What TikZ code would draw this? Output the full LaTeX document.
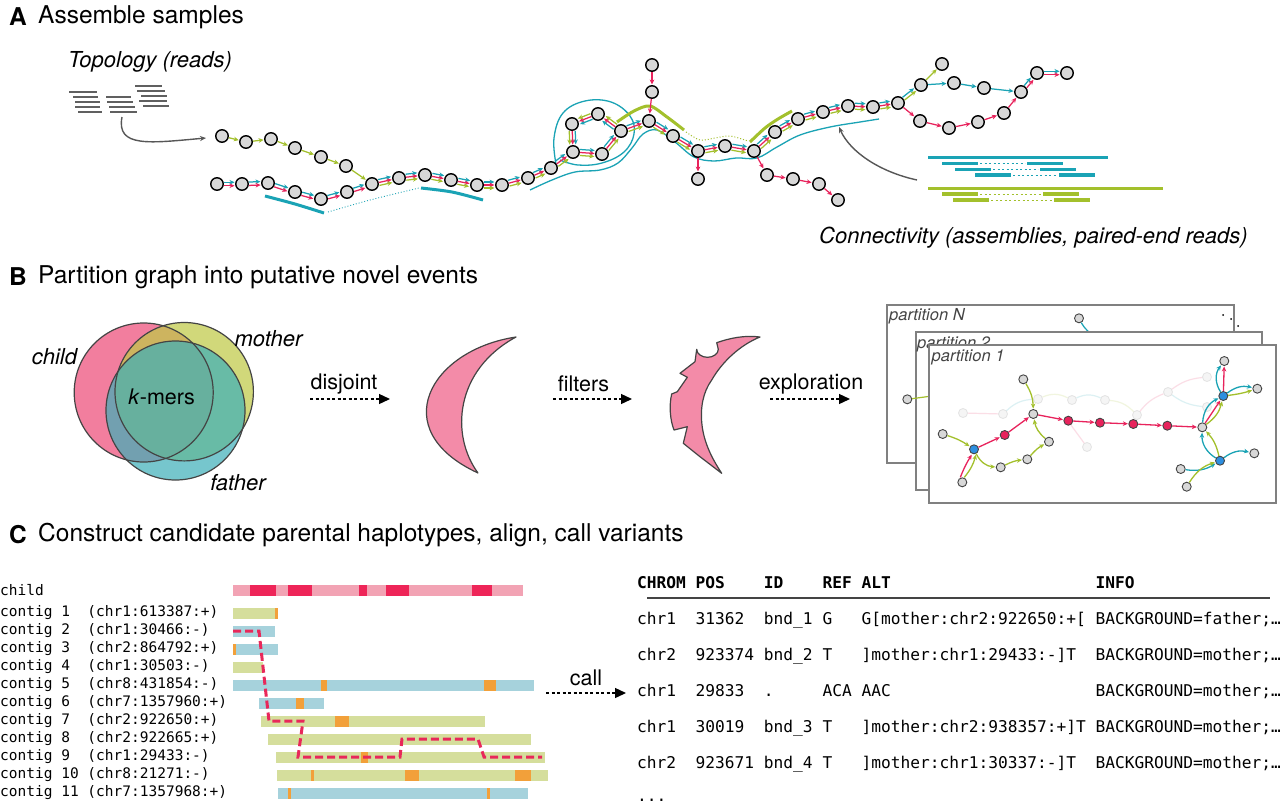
\documentclass[tikz,border=0pt]{standalone}
\usepackage{fontspec}
\setmainfont{TeX Gyre Heros}
\newfontfamily\monof{DejaVu Sans Mono}
\usetikzlibrary{arrows.meta,calc}
\definecolor{cteal}{HTML}{1AA3B5}
\definecolor{cred}{HTML}{E8235C}
\definecolor{cgreen}{HTML}{A3C02C}
\definecolor{ndgray}{HTML}{D8D8D8}
\definecolor{cpink}{HTML}{F27E9E}
\definecolor{cmom}{RGB}{192,202,71}
\definecolor{cdad}{RGB}{60,175,185}
\definecolor{barpink}{HTML}{F2A3B4}
\definecolor{bardark}{HTML}{EE2558}
\definecolor{bargreen}{HTML}{D5DE9C}
\definecolor{barblue}{HTML}{A6D2DC}
\definecolor{barorange}{HTML}{F2A03A}
\definecolor{dashred}{HTML}{E8285A}
\definecolor{dkgray}{HTML}{444444}
\definecolor{boxgray}{HTML}{808080}
\definecolor{pblue}{HTML}{2D8FE0}
\newcommand\setfs[1]{\fontsize{#1}{#1}\selectfont}
\newcommand\edg[4]{\draw[ar,#1] ($(#3)!#2!90:(#4)$) -- ($(#4)!#2!-90:(#3)$);}
\newcommand\tri[2]{\edg{cteal}{3pt}{#1}{#2}\edg{cred}{0pt}{#1}{#2}\edg{cgreen}{-3pt}{#1}{#2}}
\newcommand\duo[2]{\edg{cteal}{1.7pt}{#1}{#2}\edg{cred}{-1.7pt}{#1}{#2}}
\newcommand\cbar[4]{\fill[#1] (#2,#4-5.5) rectangle (#3,#4+5.5);}
\tikzset{
 nd/.style={circle,draw=black,line width=1.4pt,fill=ndgray,minimum size=12.5pt,inner sep=0pt},
 ar/.style={line width=1.25pt,-{Stealth[length=5pt,width=4.6pt]},shorten >=7.5pt,shorten <=7pt},
 ttl/.style={anchor=west,inner sep=0pt,font=\setfs{24.5}},
 ttlb/.style={anchor=west,inner sep=0pt,font=\setfs{24.5}\bfseries},
 lbl/.style={inner sep=0pt,font=\setfs{22}\itshape},
 alb/.style={inner sep=0pt,font=\setfs{21.5}},
 dar/.style={line width=1.3pt,dash pattern=on 3pt off 2.5pt,-{Triangle[length=11pt,width=10pt]}},
 garr/.style={draw=dkgray!90,line width=1.4pt,-{Stealth[length=6pt,width=5pt]}},
 venn/.style={draw=dkgray,line width=1.2pt},
 pbox/.style={draw=boxgray,line width=1.8pt,fill=white},
 pn/.style={circle,draw=dkgray,line width=0.9pt,fill=ndgray,minimum size=9pt,inner sep=0pt},
 pfade/.style={circle,draw=dkgray!15,line width=0.8pt,fill=ndgray!25,minimum size=9pt,inner sep=0pt},
 pa/.style={line width=1.3pt,-{Stealth[length=5pt,width=4.5pt]},shorten >=0.5pt},
 pfa/.style={line width=1.2pt,opacity=0.15},
 tealread/.style={cteal,line width=3.2pt},
 greenread/.style={cgreen,line width=3.6pt},
 rdot/.style={line width=0.8pt,dash pattern=on 2pt off 2.5pt},
 clab/.style={anchor=west,inner sep=0pt,font=\monof\setfs{14.5}},
 tab/.style={anchor=west,inner sep=0pt,text height=11pt,text depth=3pt,font=\monof\setfs{16.2}},
}
\begin{document}
\begin{tikzpicture}[x=1pt,y=-1pt]
\useasboundingbox (0,0) rectangle (1280,804);
\fill[white] (0,0) rectangle (1280,804);

% ================= PANEL A =================
\node[ttlb] (tA) at (9,17) {A};
\node[ttl] (tAt) at (38,17) {Assemble samples};
\node[lbl,anchor=west] (topo) at (68,62) {Topology (reads)};
\node[lbl,anchor=west] (conn) at (819,238) {Connectivity (assemblies, paired-end reads)};

% topology reads
\foreach \a/\b/\y in {69/97/91.7, 73/98/96.7, 75/100/101.7, 75/100/106.7, 78/102/111.7,
                      106/131/96.7, 107/133/101.7, 109/135/106.7, 110/137/111.7,
                      135/162/86, 137/165/90.7, 141/167/96, 139/167/101, 143/169/106}
  \draw[dkgray!85,line width=1.6pt] (\a,\y) -- (\b,\y);

% connectivity reads
\draw[tealread] (928,157.3) -- (1108,157.3);
\draw[tealread] (942,163.3) -- (978,163.3); \draw[cteal,rdot] (980,163.3) -- (1025,163.3); \draw[tealread] (1027,163.3) -- (1063,163.3);
\draw[tealread] (955,169.3) -- (991,169.3); \draw[cteal,rdot] (993,169.3) -- (1038,169.3); \draw[tealread] (1040,169.3) -- (1076,169.3);
\draw[tealread] (975,175) -- (1011,175); \draw[cteal,rdot] (1013,175) -- (1057,175); \draw[tealread] (1059,175) -- (1095,175);
\draw[greenread] (928,188.3) -- (1163,188.3);
\draw[greenread] (942,194) -- (978,194); \draw[cgreen,rdot] (980,194) -- (1041,194); \draw[greenread] (1043,194) -- (1079,194);
\draw[greenread] (953,200) -- (989,200); \draw[cgreen,rdot] (991,200) -- (1052,200); \draw[greenread] (1054,200) -- (1090,200);

% assembly curves
\draw[cteal,line width=3pt] plot[smooth] coordinates {(265,196) (295,204) (324,213)};
\draw[cteal,line width=0.9pt,dotted] plot[smooth] coordinates {(328,212) (370,200) (419,188)};
\draw[cteal,line width=3pt] plot[smooth] coordinates {(421,188) (452,192) (483,200)};
\draw[cteal,line width=1.3pt] plot[smooth,tension=0.6] coordinates {(530,190) (552,180) (575,172) (600,170) (618,163) (632,148) (643,134) (657,130) (675,142) (694,157) (714,161) (736,158) (757,158) (777,147) (800,135) (830,127) (860,122) (879,119)};
\draw[cteal,line width=1.3pt] plot[smooth,tension=0.65] coordinates {(556,164) (554,138) (563,113) (585,101) (611,102) (630,116) (634,134) (624,152) (602,163) (578,165) (560,160)};
\draw[cgreen,line width=3pt] plot[smooth] coordinates {(617,122) (634,111) (650,106) (667,117) (684,130)};
\draw[cgreen,line width=1pt,dotted] plot[smooth] coordinates {(686,132) (700,140) (715,138) (730,136) (748,141)};
\draw[cgreen,line width=3pt] plot[smooth] coordinates {(750,142) (765,128) (778,119) (792,111)};

% nodes
\foreach \n/\x/\y in {L1/217/184, L2/242/184, L3/268/183, L4/295/192, L5/321/199, L6/347/192, L7/372/184,
  L8/399/178, L9/425/175, L10/451/180, L11/477/185, L12/502/185, L13/528/178, L14/551/168,
  P1/573/152, P2/572/124, P3/598/114, P4/621/131, P5/602/154, J1/649/121, B1/652/65, B2/652/92,
  M1/673/136, M2/698/151, D1/698/179, M3/725/146, M4/754/151, R1/767/175, R2/793/179, R3/819/184, R4/838/200,
  M5/775/132, M6/798/119, M7/823/112, M8/848/106, M9/873/107, J2/898/103,
  U1/921/85, U0/942/64, U2/954/83, U3/984/88, U4/1021/92, U5/1037/73, U6/1067/73,
  W1/920/121, W2/949/128, W3/978/122, W4/1004/113,
  G1/222/136, G2/246/142, G3/271/139, G4/295/148, G5/321/157, G6/346/166}
  \node[nd] (\n) at (\x,\y) {};

% edges
\foreach \a/\b in {L1/L2, L2/L3, L3/L4, L4/L5, L5/L6, L6/L7, U4/U5, U5/U6} {\duo{\a}{\b}}
\foreach \a/\b in {L7/L8, L8/L9, L9/L10, L10/L11, L11/L12, L12/L13, L13/L14, L14/P1, P1/P5, P5/P4, P4/P3, P3/P2, P2/P1,
  P4/J1, J1/M1, M1/M2, M2/M3, M3/M4, M4/M5, M5/M6, M6/M7, M7/M8, M8/M9, M9/J2} {\tri{\a}{\b}}
\foreach \a/\b in {G1/G2, G2/G3, G3/G4, G4/G5, G5/G6, G6/L7, U1/U0} {\edg{cgreen}{0pt}{\a}{\b}}
\foreach \a/\b in {B1/B2, B2/J1, M2/D1, M4/R1, R1/R2, R2/R3, R3/R4, J2/W1, W1/W2, W2/W3, W3/W4, W4/U4} {\edg{cred}{0pt}{\a}{\b}}
\foreach \a/\b in {U1/U2, U2/U3, U3/U4} {\edg{cteal}{0pt}{\a}{\b}}
\edg{cteal}{1.7pt}{J2}{U1}\edg{cgreen}{-1.7pt}{J2}{U1}

% arrows into the graph
\draw[garr] (122,117) .. controls (116,148) and (150,143) .. (206,138);
\draw[garr] (917,180) .. controls (880,172) and (850,152) .. (839,127);

% ================= PANEL B =================
\node[ttlb] (tB) at (9,277) {B};
\node[ttl] (tBt) at (38,277) {Partition graph into putative novel events};

% Venn
\fill[cpink] (143.7,392.5) circle[radius=69.5pt];
\fill[cmom,fill opacity=0.72] (184.2,391.7) circle[radius=69.2pt];
\fill[cdad,fill opacity=0.70] (175.5,410.5) circle[radius=69.5pt];
\draw[venn] (143.7,392.5) circle[radius=69.5pt];
\draw[venn] (184.2,391.7) circle[radius=69.2pt];
\draw[venn] (175.5,410.5) circle[radius=69.5pt];
\node[lbl] (vchild) at (54.5,357) {child};
\node[lbl] (vmother) at (268.5,339) {mother};
\node[lbl] (vfather) at (238,483) {father};
\node[alb] (vk) at (161.7,397) {\textit{k}-mers};

% crescents
\filldraw[fill=cpink!90!white,draw=dkgray,line width=1.2pt,line join=round]
  (516,337) .. controls (430,350) and (385,430) .. (478,473) .. controls (450,435) and (455,370) .. (516,337) -- cycle;
\filldraw[fill=cpink!90!white,draw=dkgray,line width=1.2pt,line join=round]
  (760,337) .. controls (745,335) and (730,338) .. (716.7,342.7) -- (718.3,349.3)
  arc[start angle=0,end angle=-180,x radius=10.8pt,y radius=8pt]
  -- (695,361.7) -- (680,373.3) -- (687.3,377.3) -- (677.3,391.7) -- (671.7,394)
  .. controls (669,405) and (670,420) .. (674,430) -- (687.3,426.7) -- (683.3,443.3) -- (700,456.7) -- (721.7,473.3)
  .. controls (711,457) and (704,442) .. (702,425) .. controls (700,408) and (703,392) .. (711.7,380)
  .. controls (722,362) and (740,345) .. (760,337) -- cycle;

% dashed arrows
\coordinate (d1s) at (310,399); \coordinate (d1e) at (390,399);
\coordinate (d2s) at (553,399); \coordinate (d2e) at (632,399);
\coordinate (d3s) at (770,399); \coordinate (d3e) at (850,399);
\draw[dar] (d1s) -- (d1e); \draw[dar] (d2s) -- (d2e); \draw[dar] (d3s) -- (d3e);
\node[alb] (ldis) at (344,384) {disjoint};
\node[alb] (lfil) at (583.5,384) {filters};
\node[alb] (lexp) at (811,384) {exploration};

% partition N
\draw[pbox] (886.7,305) rectangle (1234,463.3);
\node[anchor=west,inner sep=0pt,font=\setfs{16.5}\itshape,text=dkgray] (pNl) at (889,316.5) {partition N};
\node[pn] (pN1) at (1079,318.3) {};
\coordinate (pN2) at (1095,336);
\draw[cteal,line width=1.2pt] (pN1) to[bend right=15] (pN2);
\foreach \x/\y in {1223/315, 1231/319, 1238/326} \fill[black] (\x,\y) circle[radius=1pt];
% partition 2
\draw[pbox] (915.7,331.7) rectangle (1262.3,490);
\node[anchor=west,inner sep=0pt,font=\setfs{16.5}\itshape,text=dkgray] (p2l) at (917,344) {partition 2};
\node[pn] (p21) at (907.3,399.3) {};
\coordinate (p22) at (932,396);
\draw[cgreen,line width=1.2pt] (p21) -- (p22);
% partition 1
\draw[pbox] (929.3,345) rectangle (1275.7,503.3);
\node[anchor=west,inner sep=0pt,font=\setfs{16.5}\itshape,text=dkgray] (p1l) at (931.5,357) {partition 1};

% faded background graph
\foreach \n/\x/\y in {f1/963/413, f2/1003/414, f3/1038/399, f4/1072/400, f5/1105/400, f6/1137/415, f7/1168/392, f8/1207/377, f9/1207/407, f10/1087/447}
  \node[pfade] (\n) at (\x,\y) {};
\draw[pfa,cred] (f1) -- (f2);
\draw[pfa,cteal] (f2) to[bend left=20] (f3);
\draw[pfa,cgreen] (f3) to[bend left=25] (f4);
\draw[pfa,cteal] (f4) to[bend left=25] (f5);
\draw[pfa,cgreen] (f5) to[bend left=20] (f6);
\draw[pfa,cred] (f6) to[bend left=15] (f7);
\draw[pfa,cred] (f7) to[bend left=15] (f8);
\draw[pfa,cteal] (f7) to[bend right=15] (f9);
\draw[pfa,cred] (f10) -- (1068,421);

\foreach \n/\x/\y/\s in {a/942.7/434/pn, c/962.3/482.3/pn, e/1000.7/467.3/pn, f/1027.3/459.3/pn, g/1049/441.7/pn,
   h/1023.3/379.3/pn, i/1033.3/414/pn, n/1202.3/427.3/pn, p/1224.3/361/pn, q/1257.3/388.7/pn,
   s/1254.3/453.3/pn, t/1180.7/469/pn, u/1186.7/486.7/pn}
  \node[\s] (\n) at (\x,\y) {};
\foreach \n/\x/\y in {b/974/449.3, o/1223.3/396, r/1220/460.7}
  \node[pn,fill=pblue] (\n) at (\x,\y) {};
\foreach \n/\x/\y in {d/1004.7/435, j/1068.3/420.7, k/1100/422.7, l/1133.3/424, m/1167.3/425.7}
  \node[pn,fill=cred] (\n) at (\x,\y) {};

\draw[pa,cgreen] (a) to[bend left=8] (b);
\draw[pa,cred] ($(c.north)+(-2,0)$) to[bend left=5] ($(b.south)+(-2,0)$);
\draw[pa,cgreen] ($(c.north)+(2,0)$) to[bend right=12] ($(b.south)+(2,0)$);
\draw[pa,cred] (b) -- (d);
\draw[pa,cred] (d) -- (i);
\draw[pa,cgreen] (b) to[bend right=30] (e);
\draw[pa,cgreen] (e) to[bend left=10] (f);
\draw[pa,cgreen] (f) to[bend left=10] (g);
\draw[pa,cgreen] (g) to[bend left=20] (i);
\draw[pa,cgreen] (h) to[bend left=15] (i);
\draw[pa,cred] (i) -- (j);
\draw[pa,cred] (j) -- (k);
\draw[pa,cred] (k) -- (l);
\draw[pa,cred] (l) -- (m);
\draw[pa,cred] (m) -- (n);
\draw[pa,cred] (n) -- (o);
\draw[pa,cteal] (n) to[bend left=30] (o);
\draw[pa,cgreen] (n) to[bend right=20] (o);
\draw[pa,cred] (o) -- (p);
\draw[pa,cteal] (o) to[bend left=35] (p);
\draw[pa,cteal] (o) to[bend left=25] (q);
\draw[pa,cgreen] (o) to[bend right=5] (q);
\draw[pa,cteal] (r) to[bend left=30] (n);
\draw[pa,cgreen] (r) to[bend right=15] (n);
\draw[pa,cteal] (t) to[bend right=20] (r);
\draw[pa,cgreen] (u) to[bend left=20] (r);
\draw[pa,cteal] (r) to[bend left=25] (s);

% ================= PANEL C =================
\node[ttlb] (tC) at (9,535) {C};
\node[ttl] (tCt) at (38,535) {Construct candidate parental haplotypes, align, call variants};

% labels
\node[clab] (lc0) at (0,590) {child};
\foreach \t [count=\k] in {contig~1~~(chr1:613387:+), contig~2~~(chr1:30466:-), contig~3~~(chr2:864792:+),
  contig~4~~(chr1:30503:-), contig~5~~(chr8:431854:-), contig~6~~(chr7:1357960:+), contig~7~~(chr2:922650:+),
  contig~8~~(chr2:922665:+), contig~9~~(chr1:29433:-), contig~10~(chr8:21271:-), contig~11~(chr7:1357968:+)}
  \node[clab] (lc\k) at (0,{613+18*(\k-1)}) {\t};

% bars
\cbar{barpink}{233}{523}{590}
\foreach \a/\b in {250/276, 288/312, 359/367, 386/409, 472/492} {\cbar{bardark}{\a}{\b}{590}}
\cbar{bargreen}{233}{277}{613} \cbar{barorange}{275}{277.5}{613}
\cbar{barblue}{233}{275}{631}
\cbar{barblue}{233}{278}{649} \cbar{barorange}{233}{236}{649}
\cbar{bargreen}{233}{263}{667}
\cbar{barblue}{233}{534}{685} \cbar{barorange}{321}{327}{685} \cbar{barorange}{484}{496}{685}
\cbar{barblue}{259}{324}{703} \cbar{barorange}{296}{304}{703}
\cbar{bargreen}{261}{485}{721} \cbar{barorange}{335}{349}{721}
\cbar{bargreen}{268}{531}{739}
\cbar{bargreen}{276}{545}{757} \cbar{barorange}{361}{368}{757}
\cbar{bargreen}{277}{548}{775} \cbar{barorange}{311}{313.5}{775} \cbar{barorange}{405}{419}{775} \cbar{barorange}{515}{531}{775}
\cbar{barblue}{278}{528}{793} \cbar{barorange}{288}{290.5}{793} \cbar{barorange}{487}{489.5}{793}

% haplotype path
\draw[dashred,line width=3pt,dash pattern=on 8pt off 4pt]
  (233,631) -- (259,631) -- (269,721) -- (303,721) -- (298,757) -- (400,757) -- (402,739) -- (478,739) -- (484,757) -- (542,757);

% call arrow
\coordinate (cs) at (546,693); \coordinate (ce) at (626,693);
\draw[dar] (cs) -- (ce);
\node[alb] (lcall) at (586,678) {call};

% table
\node[tab,font=\monof\bfseries\setfs{16.2}] (h0) at (637,584) {CHROM~POS~~~~ID~~~~REF~ALT~~~~~~~~~~~~~~~~~~~~~INFO};
\draw[dkgray,line width=1.5pt] (647,598) -- (1270,598);
\node[tab] (r1) at (637,620) {chr1~~31362~~bnd\_1~G~~~G[mother:chr2:922650:+[~BACKGROUND=father;…};
\node[tab] (r2) at (637,656) {chr2~~923374~bnd\_2~T~~~]mother:chr1:29433:-]T~~BACKGROUND=mother;…};
\node[tab] (r3) at (637,692) {chr1~~29833~~.~~~~~ACA~AAC~~~~~~~~~~~~~~~~~~~~~BACKGROUND=mother;…};
\node[tab] (r4) at (637,728) {chr1~~30019~~bnd\_3~T~~~]mother:chr2:938357:+]T~BACKGROUND=mother;…};
\node[tab] (r5) at (637,764) {chr2~~923671~bnd\_4~T~~~]mother:chr1:30337:-]T~~BACKGROUND=mother;…};
\node[tab] (r6) at (637,797) {...};
\end{tikzpicture}
\end{document}
